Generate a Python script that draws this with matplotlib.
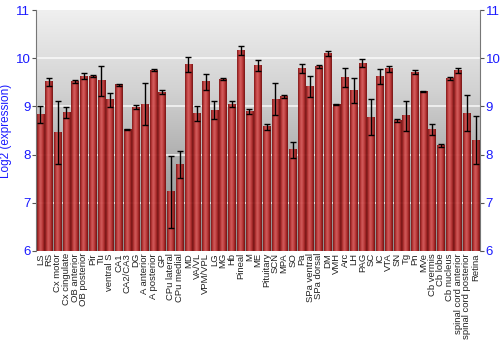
import numpy as np
import matplotlib
matplotlib.use("Agg")
import matplotlib.pyplot as plt
from matplotlib.colors import LinearSegmentedColormap

plt.rcParams['font.family'] = ['Liberation Sans', 'DejaVu Sans']

# regions and log2 expression values
regions = ["LS", "RS", "Cx motor", "Cx cingulate", "OB anterior", "OB posterior",
           "Pir", "Tu", "ventral S", "CA1", "CA2/CA3", "DG", "A anterior",
           "A posterior", "GP", "CPu lateral", "CPu medial", "MD", "VA/VL",
           "VPM/VPL", "LG", "MG", "Hb", "Pineal", "M", "ME", "Pituitary", "SCN",
           "MPA", "SO", "Pa", "SPa ventral", "SPa dorsal", "DM", "VMH", "Arc",
           "LH", "PAG", "SC", "IC", "VTA", "SN", "Tg", "Pn", "MVe", "Cb vermis",
           "Cb lobe", "Cb nucleus", "spinal cord anterior",
           "spinal cord posterior", "Retina"]
values = [8.83, 9.51, 8.46, 8.87, 9.51, 9.63, 9.63, 9.53, 9.14, 9.45, 8.52, 8.99,
          9.05, 9.75, 9.30, 7.23, 7.80, 9.87, 8.85, 9.51, 8.92, 9.57, 9.05, 10.16,
          8.90, 9.85, 8.58, 9.15, 9.21, 8.10, 9.79, 9.41, 9.83, 10.10, 9.05, 9.60,
          9.34, 9.90, 8.78, 9.63, 9.78, 8.71, 8.81, 9.71, 9.32, 8.52, 8.19, 9.58,
          9.74, 8.86, 8.30]
errors = [0.17, 0.09, 0.65, 0.11, 0.03, 0.06, 0.025, 0.32, 0.145, 0.02, 0.01, 0.045,
          0.43, 0.02, 0.04, 0.75, 0.28, 0.155, 0.16, 0.16, 0.19, 0.03, 0.06, 0.10,
          0.05, 0.12, 0.06, 0.33, 0.025, 0.16, 0.09, 0.22, 0.035, 0.05, 0.01, 0.19,
          0.26, 0.09, 0.38, 0.155, 0.055, 0.04, 0.31, 0.04, 0.01, 0.12, 0.03, 0.04,
          0.055, 0.37, 0.50]

ymin, ymax = 6, 11
blue = "#1a1aff"

fig = plt.figure(figsize=(5, 3.5), dpi=100)
ax = fig.add_axes([0.072, 0.283, 0.888, 0.688])

n = len(regions)
x = np.arange(n)
ax.set_xlim(-0.5, n - 0.5)
ax.set_ylim(ymin, ymax)

# grey background gradient, light at top
bg = np.linspace(0, 1, 256).reshape(-1, 1)
bg_cmap = LinearSegmentedColormap.from_list("bg", ["#f0f0f0", "#d2d2d2", "#a8a8a8", "#8e8e8e"])
ax.imshow(bg, cmap=bg_cmap, aspect="auto", extent=[-0.5, n - 0.5, ymin, ymax],
          zorder=0, origin="upper")

for v in [7, 8, 9, 10]:
    ax.axhline(v, color="white", lw=1.2, alpha=0.8, zorder=1)

# bars with cylinder-like horizontal shading
bar_cmap = LinearSegmentedColormap.from_list(
    "bar", ["#7a1212", "#b83030", "#d45858", "#c84444", "#a82222", "#6e0c0c"])
grad = np.linspace(0, 1, 64).reshape(1, -1)
w = 0.86
for xi, v in zip(x, values):
    ax.imshow(grad, cmap=bar_cmap, aspect="auto", alpha=0.95,
              extent=[xi - w / 2, xi + w / 2, ymin, v], zorder=2)

ax.errorbar(x, values, yerr=errors, fmt="none", ecolor="black", elinewidth=1,
            capsize=2.2, capthick=1, zorder=3)

ax.set_yticks([6, 7, 8, 9, 10, 11])
ax.tick_params(axis="y", colors="#555555", labelcolor=blue, labelsize=9.5,
               length=3, pad=1, right=True, labelright=True)
ax.set_xticks(x)
ax.set_xticklabels(regions, rotation=90, fontsize=6.8, color="#222222")
ax.tick_params(axis="x", length=0, pad=1.5)

ax.set_ylabel("Log2 (expression)", color=blue, fontsize=8.5)
ax.yaxis.set_label_coords(-0.055, 0.5)
for s in ax.spines.values():
    s.set_color("#777777")
ax.spines["bottom"].set_visible(False)
ax.spines["top"].set_visible(False)

fig.savefig("out.png", dpi=100, facecolor="white")
